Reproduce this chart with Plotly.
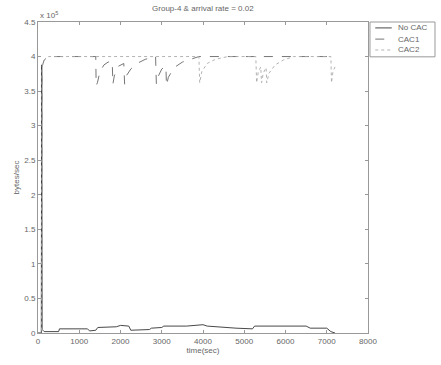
import plotly.graph_objects as go

# No CAC (solid)
t_nocac = [0, 80, 90, 100, 150, 500, 520, 1200, 1250, 1400, 1450, 1900, 2000, 2200, 2250,
           2700, 2750, 3000, 3050, 3600, 4000, 4100, 4800, 5200, 5250, 5700, 6500, 6600,
           7000, 7100, 7200]
v_nocac = [0, 0, 3.88, 0.05, 0.02, 0.02, 0.06, 0.06, 0.03, 0.04, 0.08, 0.09, 0.11, 0.10, 0.04,
           0.05, 0.07, 0.08, 0.10, 0.10, 0.12, 0.10, 0.07, 0.06, 0.10, 0.10, 0.10, 0.07,
           0.07, 0.02, 0]

# CAC1 (dashed)
t_cac1 = [0, 85, 95, 150, 250, 1400, 1410, 1440, 1500, 1600, 1700, 1800, 1815, 1850, 1950,
          2080, 2100, 2140, 2250, 2400, 2600, 2850, 2870, 2920, 3000, 3100, 3115, 3160,
          3300, 3500, 3700, 3900, 7200]
v_cac1 = [0, 0, 3.85, 3.95, 4.0, 4.0, 3.58, 3.62, 3.78, 3.88, 3.92, 3.93, 3.6, 3.72, 3.86,
          3.9, 3.6, 3.72, 3.82, 3.9, 3.96, 4.0, 3.6, 3.72, 3.82, 3.86, 3.58, 3.7,
          3.84, 3.92, 3.96, 4.0, 4.0]

# CAC2 (dotted)
t_cac2 = [0, 85, 95, 150, 250, 3900, 3920, 3970, 4100, 4300, 4600, 5280, 5300, 5340, 5400,
          5420, 5460, 5530, 5545, 5600, 5750, 5950, 6200, 7100, 7115, 7150, 7200]
v_cac2 = [0, 0, 3.85, 3.95, 4.0, 4.0, 3.62, 3.78, 3.9, 3.96, 4.0, 4.0, 3.62, 3.78, 3.85,
          3.62, 3.76, 3.84, 3.62, 3.76, 3.88, 3.95, 4.0, 4.0, 3.62, 3.78, 3.85]

series_names = ["No CAC", "CAC1", "CAC2"]
series_colors = ["#333333", "#666666", "#aaaaaa"]
series_dash = ["solid", "dash", "dot"]

x_ticks = [0, 1000, 2000, 3000, 4000, 5000, 6000, 7000, 8000]
y_ticks = [0, 0.5, 1, 1.5, 2, 2.5, 3, 3.5, 4, 4.5]

FONT = dict(family="Liberation Sans", size=8, color="#666666")

fig = go.Figure()
for tx, vy, nm, col, dsh in zip([t_nocac, t_cac1, t_cac2], [v_nocac, v_cac1, v_cac2],
                                series_names, series_colors, series_dash):
    fig.add_trace(go.Scatter(x=tx, y=vy, mode="lines", name=nm,
                             line=dict(color=col, width=0.9, dash=dsh)))

axis_common = dict(showgrid=False, zeroline=False, showline=True, linecolor="#999999",
                   linewidth=1, mirror="ticks", ticks="inside", ticklen=3,
                   tickcolor="#999999", tickfont=FONT)

fig.update_layout(
    width=441, height=365,
    margin=dict(l=38, r=73, t=22, b=32),
    paper_bgcolor="white", plot_bgcolor="white",
    title=dict(text="Group-4 & arrival rate = 0.02", x=0.46, xanchor="center", y=0.978, yanchor="middle",
               font=FONT),
    xaxis=dict(range=[0, 8000], tickvals=x_ticks, ticktext=[str(v) for v in x_ticks],
               title=dict(text="time(sec)", standoff=2, font=FONT),
               **axis_common),
    yaxis=dict(range=[0, 4.5], tickvals=y_ticks, ticktext=[f"{v:g}" for v in y_ticks],
               title=dict(text="bytes/sec", standoff=3, font=FONT),
               **axis_common),
    showlegend=False,
)
fig.add_annotation(xref="paper", yref="paper", x=0.0, y=1.0, xanchor="left", yanchor="bottom",
                   text="x 10<sup>5</sup>", showarrow=False, font=FONT)

# Manual compact legend box (MATLAB style)
fig.add_shape(type="rect", xref="paper", yref="paper", x0=1.006, x1=1.203, y0=0.888, y1=1.0,
              line=dict(color="#999999", width=1), fillcolor="white")
leg_y = [0.981, 0.945, 0.910]
for yy, nm, col, dsh in zip(leg_y, series_names, series_colors, series_dash):
    fig.add_shape(type="line", xref="paper", yref="paper", x0=1.022, x1=1.072, y0=yy, y1=yy,
                  line=dict(color=col, width=0.9, dash=dsh))
    fig.add_annotation(xref="paper", yref="paper", x=1.085, y=yy, xanchor="left", yanchor="middle",
                       text=nm, showarrow=False, font=FONT)

fig.write_html("out.html")
